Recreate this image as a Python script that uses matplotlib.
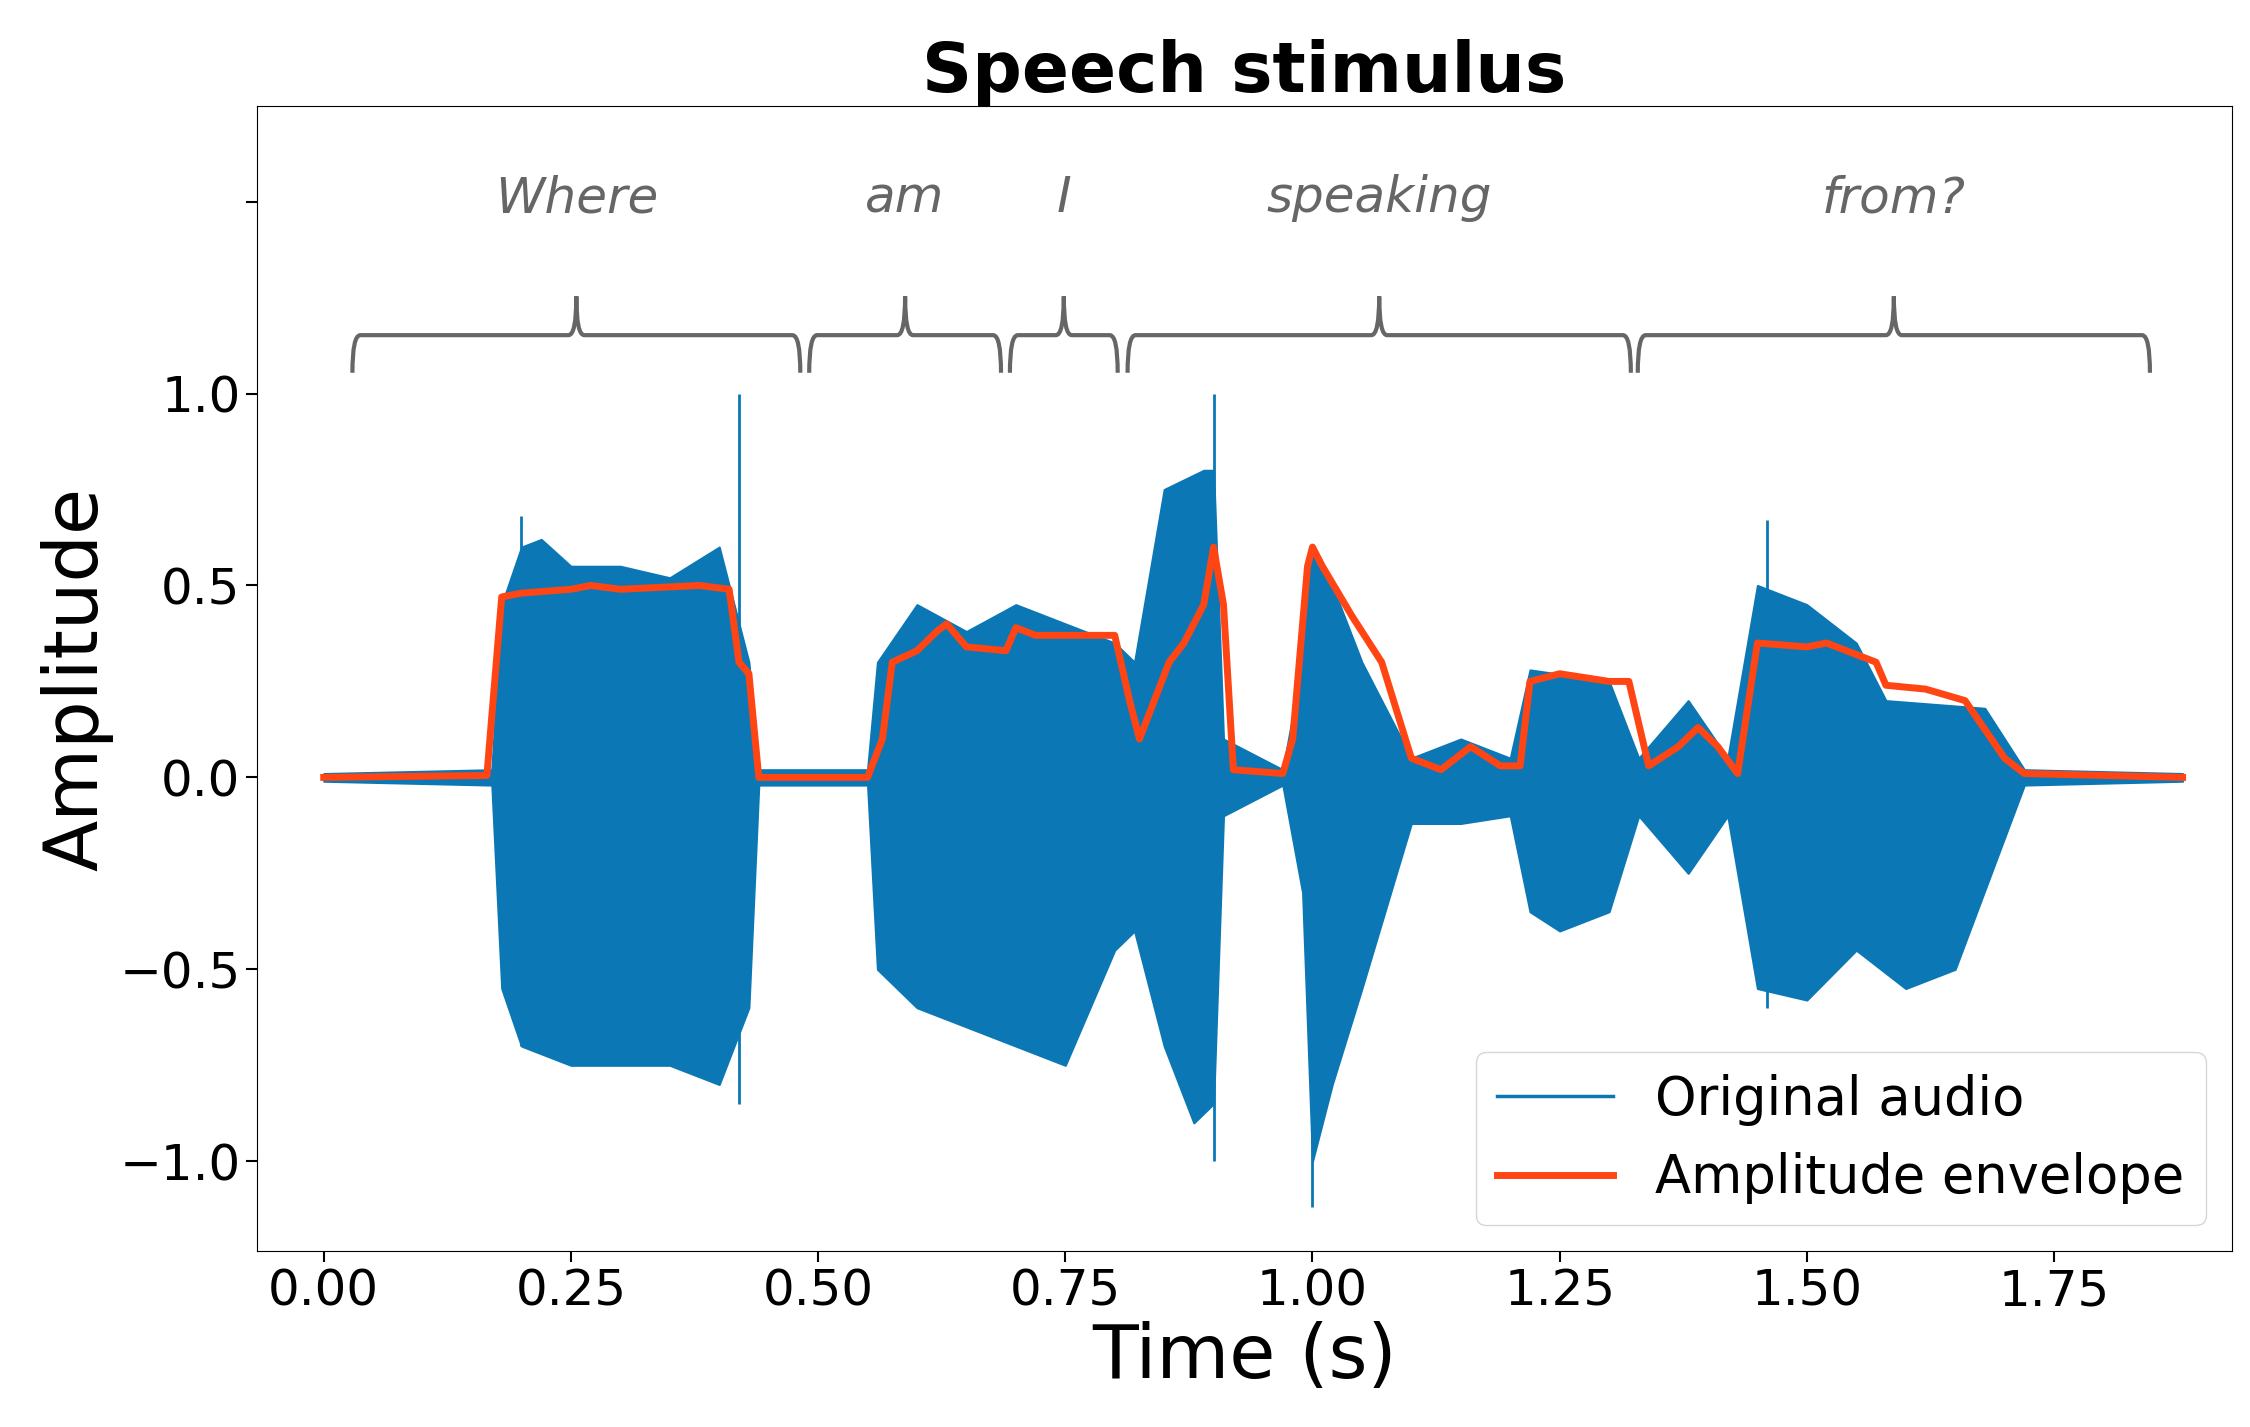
import numpy as np
import matplotlib
matplotlib.use("Agg")
import matplotlib.pyplot as plt
from matplotlib.path import Path
from matplotlib.patches import PathPatch
from matplotlib.lines import Line2D

env_t = [0,0.165,0.18,0.2,0.25,0.27,0.3,0.38,0.41,0.42,0.43,0.44,0.55,0.565,0.575,0.6,0.62,0.63,0.65,0.69,0.70,0.72,0.8,0.815,0.825,0.84,0.855,0.87,0.88,0.89,0.9,0.91,0.92,0.97,0.98,0.995,1.0,1.01,1.04,1.07,1.1,1.13,1.16,1.19,1.21,1.22,1.25,1.3,1.32,1.34,1.37,1.39,1.41,1.43,1.45,1.5,1.52,1.57,1.58,1.62,1.66,1.7,1.72,1.88]
env_v = [0,0.005,0.47,0.48,0.49,0.5,0.49,0.5,0.49,0.3,0.27,0,0,0.1,0.3,0.33,0.38,0.4,0.34,0.33,0.39,0.37,0.37,0.2,0.1,0.2,0.3,0.35,0.4,0.45,0.6,0.45,0.02,0.01,0.1,0.55,0.6,0.55,0.42,0.3,0.05,0.02,0.08,0.03,0.03,0.25,0.27,0.25,0.25,0.03,0.08,0.13,0.08,0.01,0.35,0.34,0.35,0.3,0.24,0.23,0.2,0.05,0.01,0.0]

up_t = [0,0.17,0.18,0.2,0.22,0.25,0.3,0.35,0.4,0.43,0.44,0.55,0.56,0.6,0.65,0.7,0.8,0.82,0.85,0.89,0.9,0.91,0.97,0.99,1.0,1.02,1.05,1.1,1.15,1.2,1.22,1.3,1.33,1.38,1.42,1.45,1.5,1.55,1.58,1.68,1.72,1.88]
up_v = [0.01,0.02,0.45,0.6,0.62,0.55,0.55,0.52,0.6,0.3,0.02,0.02,0.3,0.45,0.38,0.45,0.35,0.3,0.75,0.8,0.8,0.1,0.02,0.3,0.6,0.5,0.3,0.05,0.1,0.05,0.28,0.25,0.05,0.2,0.05,0.5,0.45,0.35,0.2,0.18,0.02,0.01]
lo_t = [0,0.17,0.18,0.2,0.25,0.3,0.35,0.4,0.43,0.44,0.55,0.56,0.6,0.65,0.7,0.75,0.8,0.82,0.85,0.88,0.9,0.91,0.97,0.99,1.0,1.02,1.05,1.1,1.15,1.2,1.22,1.25,1.3,1.33,1.38,1.42,1.45,1.5,1.55,1.6,1.65,1.72,1.88]
lo_v = [-0.01,-0.02,-0.55,-0.7,-0.75,-0.75,-0.75,-0.8,-0.6,-0.02,-0.02,-0.5,-0.6,-0.65,-0.7,-0.75,-0.45,-0.4,-0.7,-0.9,-0.85,-0.1,-0.02,-0.3,-1.0,-0.8,-0.55,-0.12,-0.12,-0.1,-0.35,-0.4,-0.35,-0.1,-0.25,-0.1,-0.55,-0.58,-0.45,-0.55,-0.5,-0.02,-0.01]
spike_t = [0.2,0.42,0.9,1.0,1.46]
spike_hi = [0.68,1.0,1.0,0.6,0.67]
spike_lo = [-0.7,-0.85,-1.0,-1.12,-0.6]

words = ["Where","am","I","speaking","from?"]
word_start = [0.029,0.491,0.694,0.813,1.329]
word_end = [0.482,0.685,0.803,1.322,1.847]

blue = "#0b78b5"; red = "#ff4513"; gray = "#666666"
fig = plt.figure(figsize=(22.5,14.27), dpi=100)
ax = fig.add_axes([0.114,0.123,0.878,0.803])
ax.fill_between(up_t, up_v, 0, color=blue, lw=1.5)
ax.fill_between(lo_t, lo_v, 0, color=blue, lw=1.5)
ax.vlines(spike_t, spike_lo, spike_hi, color=blue, lw=2)
ax.plot(env_t, env_v, color=red, lw=5)

for w, a, b in zip(words, word_start, word_end):
    m = (a+b)/2; d = 0.008
    yb, ye, yt = 1.152, 1.054, 1.253
    verts = [(a,ye),(a,yb),(a+d,yb),(m-d,yb),(m,yb),(m,yt),(m,yb),(m+d,yb),(b-d,yb),(b,yb),(b,ye)]
    codes = [Path.MOVETO,Path.CURVE3,Path.CURVE3,Path.LINETO,Path.CURVE3,Path.CURVE3,Path.CURVE3,Path.CURVE3,Path.LINETO,Path.CURVE3,Path.CURVE3]
    ax.add_patch(PathPatch(Path(verts,codes), fc="none", ec=gray, lw=3))
    ax.text(m, 1.508, w, ha="center", va="center", style="italic", color=gray, fontsize=36)

ax.set_xlim(-0.068,1.93); ax.set_ylim(-1.235,1.75)
ax.set_xticks([0,0.25,0.5,0.75,1.0,1.25,1.5,1.75])
ax.set_yticks([-1.0,-0.5,0,0.5,1.0,1.5])
ax.set_yticklabels(["\u22121.0","\u22120.5","0.0","0.5","1.0",""])
ax.tick_params(labelsize=36, length=8, width=1.5)
ax.set_xlabel("Time (s)", fontsize=54)
ax.set_ylabel("Amplitude", fontsize=54)
ax.set_title("Speech stimulus", fontsize=50, fontweight="bold")
handles = [Line2D([],[],color=blue,lw=2.5), Line2D([],[],color=red,lw=5)]
ax.legend(handles, ["Original audio","Amplitude envelope"], loc="lower right", fontsize=38, handlelength=2.2)
fig.savefig("out.png", dpi=100)
